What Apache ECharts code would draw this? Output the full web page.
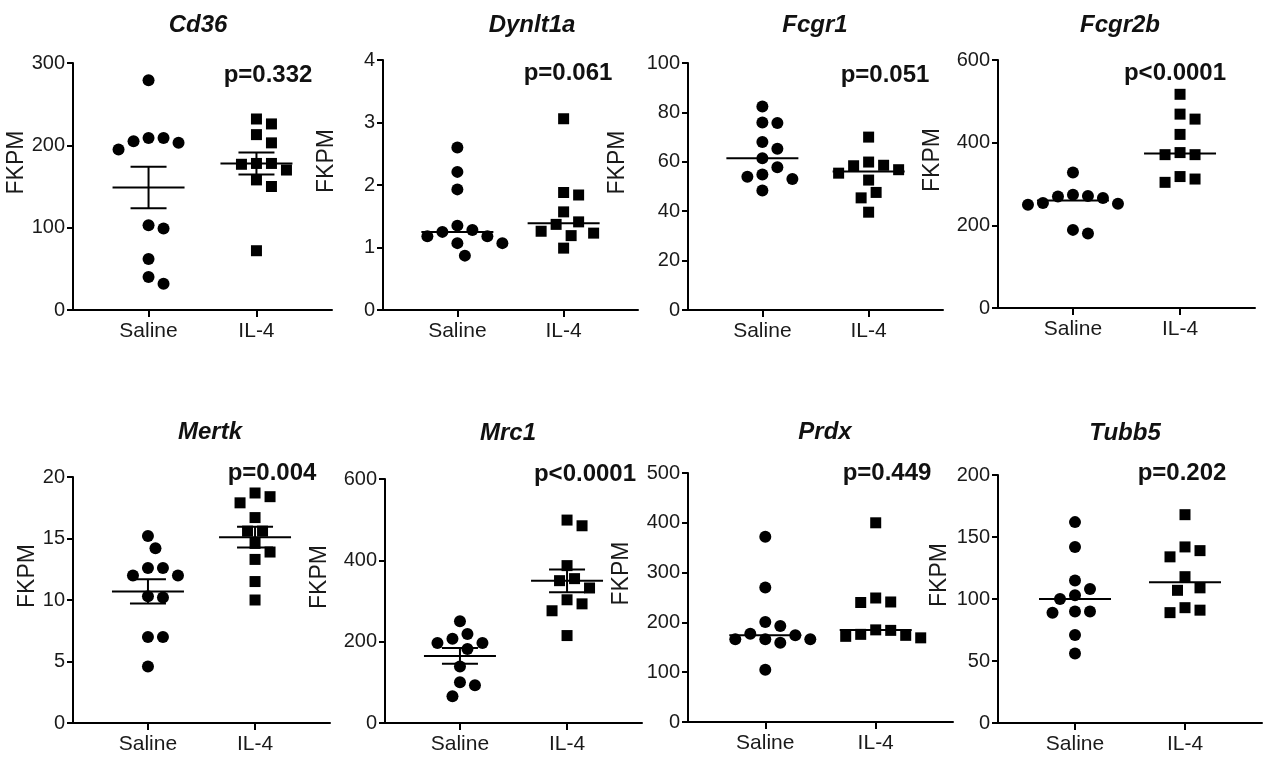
<!DOCTYPE html>
<html lang="en">
<head>
<meta charset="UTF-8">
<title>FKPM</title>
<script src="https://cdn.jsdelivr.net/npm/echarts@6/dist/echarts.min.js"></script>
<style>
    html, body { margin: 0; padding: 0; background: #fff; }
    #main { width: 1266px; height: 758px; }
</style>
</head>
<body>
<div id="main"></div>
<script>
    // ---- data ----
    var genes = ['Cd36', 'Dynlt1a', 'Fcgr1', 'Fcgr2b', 'Mertk', 'Mrc1', 'Prdx', 'Tubb5'];
    var groups = ['Saline', 'IL-4'];
    var pValues = ['p=0.332', 'p=0.061', 'p=0.051', 'p<0.0001', 'p=0.004', 'p<0.0001', 'p=0.449', 'p=0.202'];
    var yMax = [300, 4, 100, 600, 20, 600, 500, 200];
    var yStep = [100, 1, 20, 200, 5, 200, 100, 50];
    // true: mean with SEM bars, false: median line only
    var showSem = [true, false, false, false, true, true, false, false];

    var saline = [
        [279, 205, 203, 209, 209, 195, 103, 99, 62, 40, 32],
        [2.60, 2.21, 1.93, 1.35, 1.28, 1.25, 1.18, 1.18, 1.07, 1.07, 0.87],
        [82.4, 75.9, 75.7, 68.0, 65.3, 61.4, 57.8, 54.9, 53.9, 53.0, 48.4],
        [328, 252, 250, 254, 274, 271, 270, 266, 189, 180],
        [15.2, 14.2, 12.6, 12.6, 12.0, 12.0, 10.3, 10.2, 7.0, 7.0, 4.6],
        [250, 219, 197, 197, 207, 182, 139, 100, 93, 66],
        [372, 270, 201, 193, 166, 166, 166, 174, 159, 177, 105],
        [162, 142, 115, 108, 103, 100, 90, 90, 89, 71, 56]
    ];
    var il4 = [
        [232, 226, 213, 203, 178, 178, 177, 170, 158, 150, 72],
        [3.06, 1.88, 1.84, 1.57, 1.41, 1.37, 1.26, 1.23, 1.19, 0.99],
        [70.0, 59.9, 58.6, 58.4, 56.8, 55.4, 52.6, 47.6, 45.4, 39.6],
        [517, 469, 457, 420, 376, 371, 371, 318, 312, 304],
        [18.7, 17.9, 18.4, 16.7, 15.6, 15.6, 14.6, 13.9, 13.3, 11.5, 10.0],
        [499, 485, 387, 355, 350, 332, 303, 293, 276, 215],
        [400, 249, 241, 240, 185, 184, 176, 174, 172, 169],
        [168, 142, 139, 134, 118, 109, 107, 93, 91, 89]
    ];

    // ---- layout (px) ----
    var grids = [
        [73, 63, 259, 247], [383, 60, 255, 250], [688, 63, 255, 247], [998, 60, 257, 248],
        [73, 477, 257, 246], [385, 479, 257, 244], [688, 473, 265, 249], [998, 475, 264, 248]
    ];
    var titlePos = [[198, 25], [532, 25], [815, 25], [1120, 25], [210, 432], [508, 433], [825, 432], [1125, 433]];
    var pPos = [[268, 75], [568, 73], [885, 75], [1175, 73], [272, 473], [585, 474], [887, 473], [1182, 473]];
    var nameGaps = [45, 45, 59, 54, 32, 54, 55, 47];
    var X_MIN = 0.3, X_MAX = 2.7;
    var FONT = 'Arial, "Liberation Sans", sans-serif';

    function mean(a) { return a.reduce(function (s, v) { return s + v; }, 0) / a.length; }
    function sem(a) {
        var m = mean(a);
        var ss = a.reduce(function (s, v) { return s + (v - m) * (v - m); }, 0);
        return Math.sqrt(ss / (a.length - 1)) / Math.sqrt(a.length);
    }
    function median(a) {
        var s = a.slice().sort(function (x, y) { return x - y; });
        var n = s.length;
        return n % 2 ? s[(n - 1) / 2] : (s[n / 2 - 1] + s[n / 2]) / 2;
    }

    // simple beeswarm: spread points sideways so markers do not overlap
    function swarm(values, pxPerUnit, step) {
        var placed = [];
        var offs = new Array(values.length);
        var order = values.map(function (v, i) { return i; })
            .sort(function (a, b) { return values[b] - values[a]; });
        order.forEach(function (i) {
            var y = values[i] * pxPerUnit;
            for (var k = 0; k < 60; k++) {
                var cand = k === 0 ? 0 : (k % 2 ? 1 : -1) * Math.ceil(k / 2) * step / 2;
                var ok = placed.every(function (p) {
                    var dx = p[0] - cand, dy = p[1] - y;
                    return dx * dx + dy * dy >= step * step * 0.9;
                });
                if (ok) { placed.push([cand, y]); offs[i] = cand; break; }
            }
        });
        return offs;
    }

    var chart = echarts.init(document.getElementById('main'));

    var option = {
        backgroundColor: '#fff',
        animation: false,
        grid: [], xAxis: [], yAxis: [], series: [], graphic: []
    };

    var axisLine = { show: true, onZero: false, lineStyle: { color: '#000', width: 2 } };

    genes.forEach(function (gene, i) {
        var g = grids[i];
        option.grid.push({ left: g[0], top: g[1], width: g[2], height: g[3], outerBoundsMode: 'none', containLabel: false });

        option.xAxis.push({
            type: 'value', gridIndex: i, min: X_MIN, max: X_MAX,
            splitLine: { show: false },
            axisLine: axisLine,
            axisTick: { show: true, customValues: [1, 2], length: 7, lineStyle: { color: '#000', width: 2 } },
            axisLabel: {
                customValues: [1, 2], margin: 11, fontSize: 21, color: '#1a1a1a', fontFamily: FONT,
                formatter: function (v) { return groups[Math.round(v) - 1]; }
            }
        });

        option.yAxis.push({
            type: 'value', gridIndex: i, min: 0, max: yMax[i], interval: yStep[i],
            splitLine: { show: false },
            axisLine: axisLine,
            axisTick: { show: true, length: 6, lineStyle: { color: '#000', width: 2 } },
            axisLabel: { margin: 8, fontSize: 20, color: '#1a1a1a', fontFamily: FONT },
            name: 'FKPM', nameLocation: 'middle', nameGap: nameGaps[i],
            nameTextStyle: { fontSize: 23, color: '#1a1a1a', fontFamily: FONT, padding: [0, 0, 0, 48] }
        });

        var pxPerY = g[3] / yMax[i];
        var pxPerX = g[2] / (X_MAX - X_MIN);
        var sets = [saline[i], il4[i]];

        sets.forEach(function (vals, k) {
            var offs = swarm(vals, pxPerY, 15);
            option.series.push({
                type: 'scatter', xAxisIndex: i, yAxisIndex: i,
                symbol: k === 0 ? 'circle' : 'rect',
                symbolSize: k === 0 ? 12 : 11,
                itemStyle: { color: '#000', opacity: 1 },
                data: vals.map(function (v, j) { return [k + 1 + offs[j] / pxPerX, v]; }),
                z: 2
            });
        });

        // centre line (mean or median) with optional SEM bars
        var stats = sets.map(function (vals, k) {
            return showSem[i] ? [k + 1, mean(vals), sem(vals)] : [k + 1, median(vals), 0];
        });
        option.series.push({
            type: 'custom', xAxisIndex: i, yAxisIndex: i, z: 3,
            data: stats,
            renderItem: function (params, api) {
                var x = api.value(0), c = api.value(1), e = api.value(2);
                var p = api.coord([x, c]);
                var st = { stroke: '#000', lineWidth: 2 };
                var children = [{ type: 'line', shape: { x1: p[0] - 36, y1: p[1], x2: p[0] + 36, y2: p[1] }, style: st }];
                if (e > 0) {
                    var hi = api.coord([x, c + e]), lo = api.coord([x, c - e]);
                    children.push({ type: 'line', shape: { x1: p[0], y1: hi[1], x2: p[0], y2: lo[1] }, style: st });
                    children.push({ type: 'line', shape: { x1: p[0] - 18, y1: hi[1], x2: p[0] + 18, y2: hi[1] }, style: st });
                    children.push({ type: 'line', shape: { x1: p[0] - 18, y1: lo[1], x2: p[0] + 18, y2: lo[1] }, style: st });
                }
                return { type: 'group', children: children };
            }
        });

        option.graphic.push({
            type: 'text', x: titlePos[i][0], y: titlePos[i][1],
            style: { text: gene, font: 'italic bold 24px ' + FONT, fill: '#111',
                     align: 'center', verticalAlign: 'middle', textAlign: 'center', textVerticalAlign: 'middle' }
        });
        option.graphic.push({
            type: 'text', x: pPos[i][0], y: pPos[i][1],
            style: { text: pValues[i], font: 'bold 24px ' + FONT, fill: '#111',
                     align: 'center', verticalAlign: 'middle', textAlign: 'center', textVerticalAlign: 'middle' }
        });
    });

    chart.setOption(option);
</script>
</body>
</html>
